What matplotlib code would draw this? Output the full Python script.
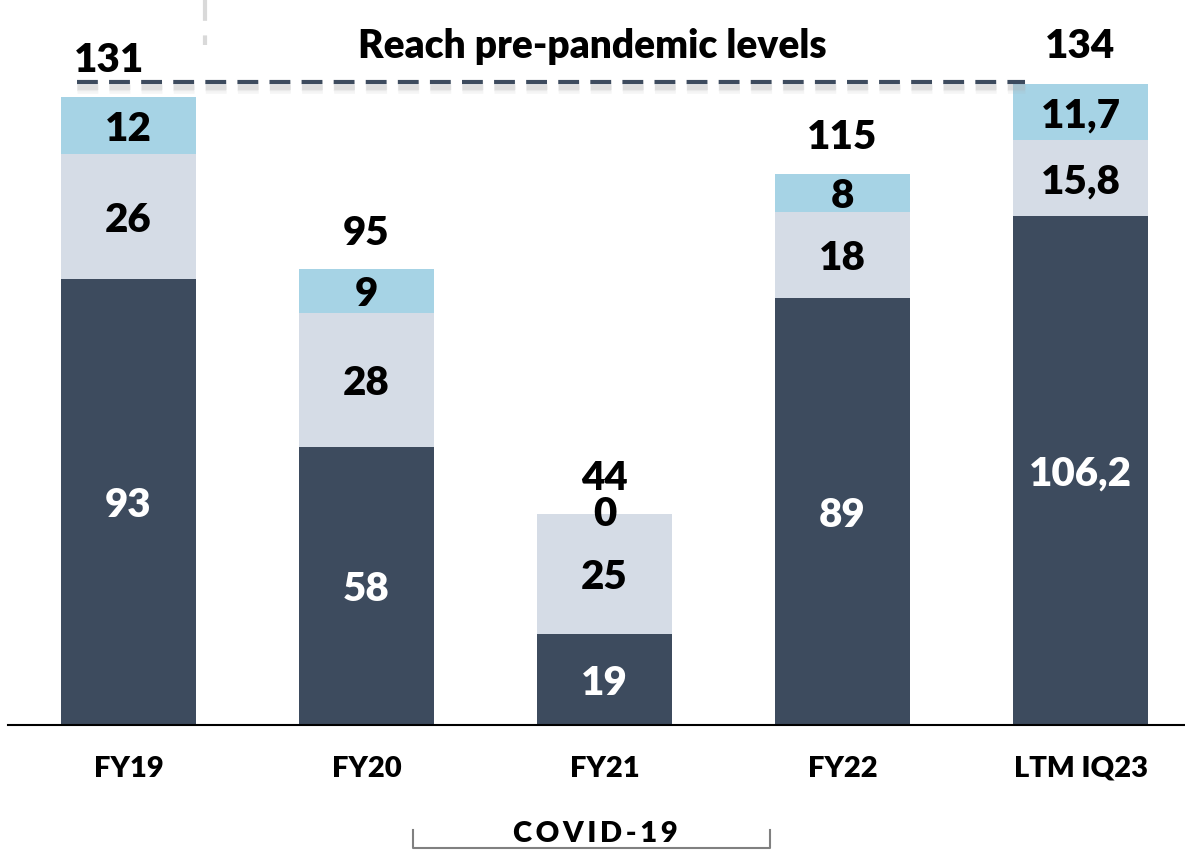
import matplotlib.pyplot as plt
import matplotlib.patheffects as pe
import numpy as np

# Valores por período (segmentos apilados)
periods = ['FY19', 'FY20', 'FY21', 'FY22', 'LTM IQ23']
base = [93, 58, 19, 89, 106.2]
middle = [26, 28, 25, 18, 15.8]
top = [12, 9, 0, 8, 11.7]
totals = [131, 95, 44, 115, 134]

base_labels = ['93', '58', '19', '89', '106,2']
middle_labels = ['26', '28', '25', '18', '15,8']
top_labels = ['12', '9', '0', '8', '11,7']

c_dark = '#3D4B5E'
c_mid = '#D5DCE6'
c_top = '#A6D3E5'

plt.rcParams['font.family'] = ['Lato', 'DejaVu Sans']
weight = 'heavy'

fig = plt.figure(figsize=(11.85, 8.5), dpi=100)
ax = fig.add_axes([0, 125 / 850, 1, 725 / 850])

x = np.arange(len(periods))
w = 0.567
bottom_mid = np.array(base)
bottom_top = bottom_mid + np.array(middle)

ax.bar(x, base, w, color=c_dark, zorder=2)
ax.bar(x, middle, w, bottom=bottom_mid, color=c_mid, zorder=2)
ax.bar(x, top, w, bottom=bottom_top, color=c_top, zorder=2)

lbl = dict(ha='center', va='center', fontsize=29, fontweight=weight)
dy = -0.8  # pequeño ajuste vertical del texto dentro de las barras
for i in range(len(periods)):
    ax.text(x[i], base[i] / 2 + dy, base_labels[i], color='white', **lbl)
    ax.text(x[i], bottom_mid[i] + middle[i] / 2 + dy, middle_labels[i], color='black', **lbl)
    if top[i] > 0:
        ax.text(x[i], bottom_top[i] + top[i] / 2 + dy, top_labels[i], color='black', **lbl)
    else:
        ax.text(x[i], bottom_top[i], top_labels[i], color='black', **lbl)
    dx = -0.08 if i == 0 else 0
    ax.text(x[i] + dx, totals[i] + 7.5, str(totals[i]), color='black', **lbl)

# Línea punteada de referencia con sombra difusa
level = totals[-1]
shadow = [pe.SimpleLineShadow(offset=(0, -3.5), shadow_color='#b0b0b0', alpha=a, linewidth=lw)
          for a, lw in [(0.12, 9), (0.15, 6), (0.2, 3.5)]]
ax.plot([x[0] - 0.217, x[-1] - 0.235], [level, level], color=c_dark, lw=3,
        dashes=(5, 2.7), solid_capstyle='butt', zorder=3,
        path_effects=shadow + [pe.Normal()])
ax.text(1.95, 141.5, 'Reach pre-pandemic levels', ha='center', va='center',
        fontsize=28, fontweight=weight, color='black')

# Separador vertical gris en la parte superior
ax.plot([0.321, 0.321], [151.2, 141.8], color='#D9D9D9', lw=3, dashes=(5, 3.5), zorder=1)

# Eje X
ax.plot([-0.506, 4.44], [0, 0], color='black', lw=1.5, clip_on=False, zorder=4)
ax.set_xlim(-0.54, 4.439)
ax.set_ylim(0, 151.2)
ax.set_xticks(x)
ax.set_xticklabels(periods, fontsize=21, fontweight=weight)
ax.tick_params(axis='x', length=0, pad=22)
ax.set_yticks([])
for s in ax.spines.values():
    s.set_visible(False)

# Corchete COVID-19
bx0, bx1, by, bt = 1.195, 2.695, -25.7, -22.0
ax.plot([bx0, bx0, bx1, bx1], [bt, by, by, bt], color='#808080', lw=1.5, clip_on=False)
ax.text(1.96, -22.8, '\u2009'.join('COVID-19'), ha='center', va='center',
        fontsize=21, fontweight=weight, color='black', clip_on=False)

fig.savefig('out.png', dpi=100)
